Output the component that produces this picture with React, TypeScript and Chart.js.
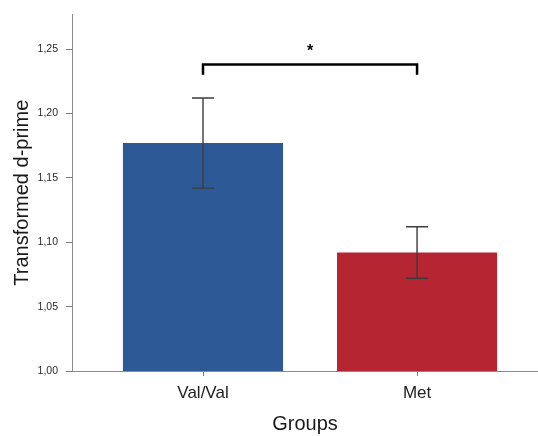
import React, { useEffect, useRef } from "react";
import { Chart, registerables } from "chart.js";

Chart.register(...registerables);

const categories = ["Val/Val", "Met"];
const means = [1.177, 1.092];
const errLow = [1.142, 1.072];
const errHigh = [1.212, 1.112];
const barColors = ["#2d5a97", "#b62532"];
const yTicks = [1.0, 1.05, 1.1, 1.15, 1.2, 1.25];
const bracketTop = 1.238;
const bracketLegBottom = 1.230;
const bracketFrom = 0;
const bracketTo = 1;
const sigLabel = "*";

const overlayPlugin = {
  id: "overlay",
  afterDatasetsDraw(chart: any) {
    const { ctx, scales } = chart;
    const xs = scales.x;
    const ys = scales.y;
    ctx.save();
    // error bars
    ctx.strokeStyle = "#3c3c3c";
    ctx.lineWidth = 1.4;
    for (let i = 0; i < means.length; i++) {
      const x = xs.getPixelForValue(i);
      const yl = ys.getPixelForValue(errLow[i]);
      const yh = ys.getPixelForValue(errHigh[i]);
      ctx.beginPath();
      ctx.moveTo(x, yl);
      ctx.lineTo(x, yh);
      ctx.moveTo(x - 11, yl);
      ctx.lineTo(x + 11, yl);
      ctx.moveTo(x - 11, yh);
      ctx.lineTo(x + 11, yh);
      ctx.stroke();
    }
    // significance bracket
    const x1 = xs.getPixelForValue(bracketFrom);
    const x2 = xs.getPixelForValue(bracketTo);
    const yt = ys.getPixelForValue(bracketTop);
    const yb = ys.getPixelForValue(bracketLegBottom);
    ctx.strokeStyle = "#000";
    ctx.lineWidth = 2.5;
    ctx.lineCap = "butt";
    ctx.lineJoin = "miter";
    ctx.beginPath();
    ctx.moveTo(x1, yb);
    ctx.lineTo(x1, yt);
    ctx.lineTo(x2, yt);
    ctx.lineTo(x2, yb);
    ctx.stroke();
    ctx.fillStyle = "#000";
    ctx.font = "bold 16px 'Liberation Sans', Arial, sans-serif";
    ctx.textAlign = "center";
    ctx.textBaseline = "alphabetic";
    ctx.fillText(sigLabel, (x1 + x2) / 2, yt - 9);
    ctx.restore();
  },
};

export default function App() {
  const ref = useRef<HTMLCanvasElement | null>(null);

  useEffect(() => {
    if (!ref.current) return;
    const chart = new Chart(ref.current, {
      type: "bar",
      data: {
        datasets: [
          {
            data: means.map((v, i) => ({ x: i, y: v })),
            backgroundColor: barColors,
            borderWidth: 0,
            barPercentage: 0.748,
            categoryPercentage: 1,
          },
        ],
      },
      options: {
        animation: false,
        responsive: false,
        devicePixelRatio: 1,
        layout: { padding: { top: 12, left: 0, right: 0, bottom: 0 } },
        plugins: {
          legend: { display: false },
          tooltip: { enabled: false },
        },
        scales: {
          x: {
            type: "linear",
            min: -0.612,
            max: 1.565,
            offset: false,
            afterFit: (s: any) => {
              s.height = 65;
            },
            afterBuildTicks: (s: any) => {
              s.ticks = categories.map((_, i) => ({ value: i }));
            },
            ticks: {
              includeBounds: false,
              autoSkip: false,
              maxRotation: 0,
              padding: 7,
              color: "#222",
              font: { family: "'Liberation Sans Narrow', 'Liberation Sans', Arial", size: 17 },
              callback: (v: any) => categories[Math.round(Number(v))] ?? "",
            },
            grid: {
              display: true,
              drawOnChartArea: false,
              drawTicks: true,
              tickLength: 5,
              color: "#7a7a7a",
              offset: false,
            },
            border: { display: true, color: "#8a8a8a", width: 1 },
            title: {
              display: true,
              text: "Groups",
              color: "#1a1a1a",
              font: { family: "'Liberation Sans', Arial", size: 20 },
              padding: { top: 0, bottom: 0 },
            },
          },
          y: {
            min: 1.0,
            max: 1.277,
            afterFit: (s: any) => {
              s.width = 72;
            },
            afterBuildTicks: (s: any) => {
              s.ticks = yTicks.map((v) => ({ value: v }));
            },
            ticks: {
              includeBounds: false,
              padding: 8,
              color: "#2a2a2a",
              font: { family: "'Liberation Sans Narrow', 'Liberation Sans', Arial", size: 10.5 },
              callback: (v: any) => Number(v).toFixed(2).replace(".", ","),
            },
            grid: {
              display: true,
              drawOnChartArea: false,
              drawTicks: true,
              tickLength: 6,
              color: "#7a7a7a",
            },
            border: { display: true, color: "#8a8a8a", width: 1 },
            title: {
              display: true,
              text: "Transformed d-prime",
              color: "#1a1a1a",
              font: { family: "'Liberation Sans', Arial", size: 20 },
              padding: { top: 10, bottom: 0 },
            },
          },
        },
      },
      plugins: [overlayPlugin],
    } as any);
    return () => chart.destroy();
  }, []);

  return (
    <div style={{ position: "absolute", left: 0, top: 0, width: 538, height: 436, background: "#fff" }}>
      <canvas ref={ref} width={538} height={436} />
    </div>
  );
}
